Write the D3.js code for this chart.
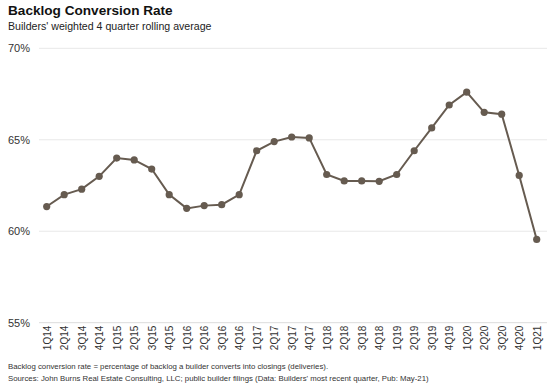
<!DOCTYPE html>
<html>
<head>
<meta charset="utf-8">
<script src="https://cdn.jsdelivr.net/npm/d3@7"></script>
<style>
  body { margin: 0; background: #fff; }
  svg { display: block; font-family: "Liberation Sans", Arial, sans-serif; }
</style>
</head>
<body>
<svg id="chart" width="560" height="386"></svg>
<script>
const quarters = ["1Q14","2Q14","3Q14","4Q14","1Q15","2Q15","3Q15","4Q15",
  "1Q16","2Q16","3Q16","4Q16","1Q17","2Q17","3Q17","4Q17",
  "1Q18","2Q18","3Q18","4Q18","1Q19","2Q19","3Q19","4Q19",
  "1Q20","2Q20","3Q20","4Q20","1Q21"];
const rates = [61.35, 62.0, 62.3, 63.0, 64.0, 63.9, 63.4, 62.0,
  61.25, 61.4, 61.45, 62.0, 64.4, 64.9, 65.15, 65.1,
  63.1, 62.75, 62.75, 62.73, 63.1, 64.4, 65.65, 66.9,
  67.6, 66.5, 66.4, 63.05, 59.55];
const yTicks = [55, 60, 65, 70];

const data = quarters.map((q, i) => ({ q, v: rates[i] }));
const svg = d3.select("#chart");
const lineColor = "#665b50";

const xScale = d3.scalePoint()
  .domain(quarters)
  .range([46.7, 536.7]);

const yScale = d3.scaleLinear()
  .domain([55, 70])
  .range([322.7, 48.3]);

// Title block
svg.append("text")
  .attr("x", 8).attr("y", 15)
  .attr("font-size", 13.6).attr("font-weight", "bold").attr("fill", "#111")
  .text("Backlog Conversion Rate");
svg.append("text")
  .attr("x", 8).attr("y", 30)
  .attr("font-size", 10.6).attr("fill", "#222")
  .text("Builders' weighted 4 quarter rolling average");

// Gridlines + y labels
const yAxis = svg.append("g").attr("class", "axis-y");
yAxis.selectAll("line")
  .data(yTicks)
  .join("line")
    .attr("x1", 39).attr("x2", 547)
    .attr("y1", d => yScale(d)).attr("y2", d => yScale(d))
    .attr("stroke", d => d === 55 ? "#dcdcdc" : "#e8e8e8")
    .attr("stroke-width", 1);
yAxis.selectAll("text")
  .data(yTicks)
  .join("text")
    .attr("x", 8)
    .attr("y", d => yScale(d))
    .attr("dy", "0.35em")
    .attr("font-size", 11).attr("fill", "#333")
    .text(d => `${d}%`);

// X labels, rotated
const xAxis = d3.axisBottom(xScale).tickSize(0).tickPadding(0);
svg.append("g")
  .attr("class", "axis-x")
  .attr("transform", `translate(0,${yScale(55)})`)
  .call(xAxis)
  .call(g => g.select(".domain").remove())
  .selectAll("text")
    .attr("transform", "rotate(-90)")
    .attr("x", -3).attr("y", 0).attr("dy", "0.35em")
    .attr("text-anchor", "end")
    .attr("font-size", 10).attr("fill", "#333")
    .attr("font-family", "'Liberation Sans', Arial, sans-serif");

// Line + markers
const curveGenerator = d3.line()
  .x(d => xScale(d.q))
  .y(d => yScale(d.v));

svg.append("path")
  .attr("d", curveGenerator(data))
  .attr("fill", "none")
  .attr("stroke", lineColor)
  .attr("stroke-width", 2);

svg.append("g")
  .selectAll("circle")
  .data(data)
  .join("circle")
    .attr("r", 3.6)
    .attr("cx", d => xScale(d.q))
    .attr("cy", d => yScale(d.v))
    .attr("fill", lineColor);

// Footnotes
svg.append("text")
  .attr("x", 8).attr("y", 369)
  .attr("font-size", 7.8).attr("fill", "#333")
  .text("Backlog conversion rate = percentage of backlog a builder converts into closings (deliveries).");
svg.append("text")
  .attr("x", 8).attr("y", 381)
  .attr("font-size", 7.8).attr("fill", "#333")
  .text("Sources: John Burns Real Estate Consulting, LLC; public builder filings (Data: Builders' most recent quarter, Pub: May-21)");
</script>
</body>
</html>
